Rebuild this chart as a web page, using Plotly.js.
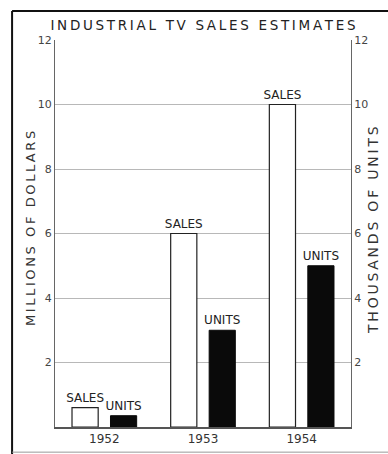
<!DOCTYPE html>
<html>
<head>
<meta charset="utf-8">
<script src="https://cdn.plot.ly/plotly-3.0.1.min.js"></script>
<style>html,body{margin:0;padding:0;background:#fff;}#chart{width:388px;height:454px;}</style>
</head>
<body>
<div id="chart"></div>
<script>
var years = ['1952', '1953', '1954'];
var salesMillions = [0.6, 6, 10];
var unitsThousands = [0.35, 3, 5];
var salesLabels = ['SALES', 'SALES', 'SALES'];
var unitsLabels = ['UNITS', 'UNITS', 'UNITS'];
var tickVals = [2, 4, 6, 8, 10, 12];
var tickText = ['2', '4', '6', '8', '10', '12'];
var chartTitle = 'INDUSTRIAL TV SALES ESTIMATES';
var leftTitle = 'MILLIONS OF DOLLARS';
var rightTitle = 'THOUSANDS OF UNITS';

var fontFam = 'DejaVu Sans, sans-serif';
function spaced(s) { return s.split('').join('\u2009'); }

var traces = [
  {
    type: 'bar', x: years, y: salesMillions, name: 'Sales', yaxis: 'y',
    offsetgroup: 's',
    marker: {color: '#ffffff', line: {color: '#222', width: 1.2}},
    text: salesLabels, textposition: 'outside', constraintext: 'none', cliponaxis: false,
    textfont: {family: fontFam, size: 12, color: '#222'},
    hoverinfo: 'skip'
  },
  {
    type: 'bar', x: years, y: unitsThousands, name: 'Units', yaxis: 'y2',
    offsetgroup: 'u',
    marker: {color: '#0a0a0a', line: {color: '#0a0a0a', width: 1}},
    text: unitsLabels, textposition: 'outside', constraintext: 'none', cliponaxis: false,
    textfont: {family: fontFam, size: 12, color: '#222'},
    hoverinfo: 'skip'
  }
];

var axisCommon = {
  range: [0, 12], tickvals: tickVals, ticktext: tickText,
  tickfont: {family: fontFam, size: 11, color: '#444'},
  showgrid: true, gridcolor: '#b8b8b8', gridwidth: 1,
  zeroline: false, showline: true, linecolor: '#666', linewidth: 1,
  ticks: '', fixedrange: true
};

var layout = {
  width: 388, height: 454,
  margin: {l: 55, r: 37, t: 40, b: 27},
  paper_bgcolor: '#fff', plot_bgcolor: '#fff',
  showlegend: false,
  barmode: 'group', bargap: 0.22, bargroupgap: 0.32,
  title: {text: spaced(chartTitle), x: 0.5, xanchor: 'center', xref: 'paper',
          y: 0.945, yanchor: 'middle',
          font: {family: fontFam, size: 13.5, color: '#222'}},
  xaxis: {
    type: 'category', tickfont: {family: fontFam, size: 12, color: '#333'},
    showline: true, linecolor: '#555', linewidth: 1.5, ticks: '', showgrid: false,
    fixedrange: true, mirror: false
  },
  yaxis: Object.assign({}, axisCommon, {mirror: true}),
  yaxis2: Object.assign({}, axisCommon, {overlaying: 'y', side: 'right', showgrid: false}),
  annotations: [
    {text: spaced(leftTitle), xref: 'paper', yref: 'paper', x: (30 - 55) / 296, y: (427 - 229) / 387,
     xanchor: 'center', yanchor: 'middle', textangle: -90, showarrow: false,
     font: {family: fontFam, size: 13, color: '#333'}},
    {text: spaced(rightTitle), xref: 'paper', yref: 'paper', x: (373 - 55) / 296, y: (427 - 230) / 387,
     xanchor: 'center', yanchor: 'middle', textangle: -90, showarrow: false,
     font: {family: fontFam, size: 14, color: '#333'}}
  ],
  shapes: [
    {type: 'line', xref: 'paper', yref: 'paper', x0: -0.145, x1: -0.145, y0: -0.075, y1: 1.075,
     line: {color: '#111', width: 2}},
    {type: 'line', xref: 'paper', yref: 'paper', x0: -0.145, x1: 1.13, y0: 1.075, y1: 1.075,
     line: {color: '#111', width: 2}},
    {type: 'line', xref: 'paper', yref: 'paper', x0: -0.145, x1: 1.13, y0: -0.065, y1: -0.065,
     line: {color: '#999', width: 1}}
  ]
};

Plotly.newPlot('chart', traces, layout, {displayModeBar: false, staticPlot: true});
</script>
</body>
</html>
